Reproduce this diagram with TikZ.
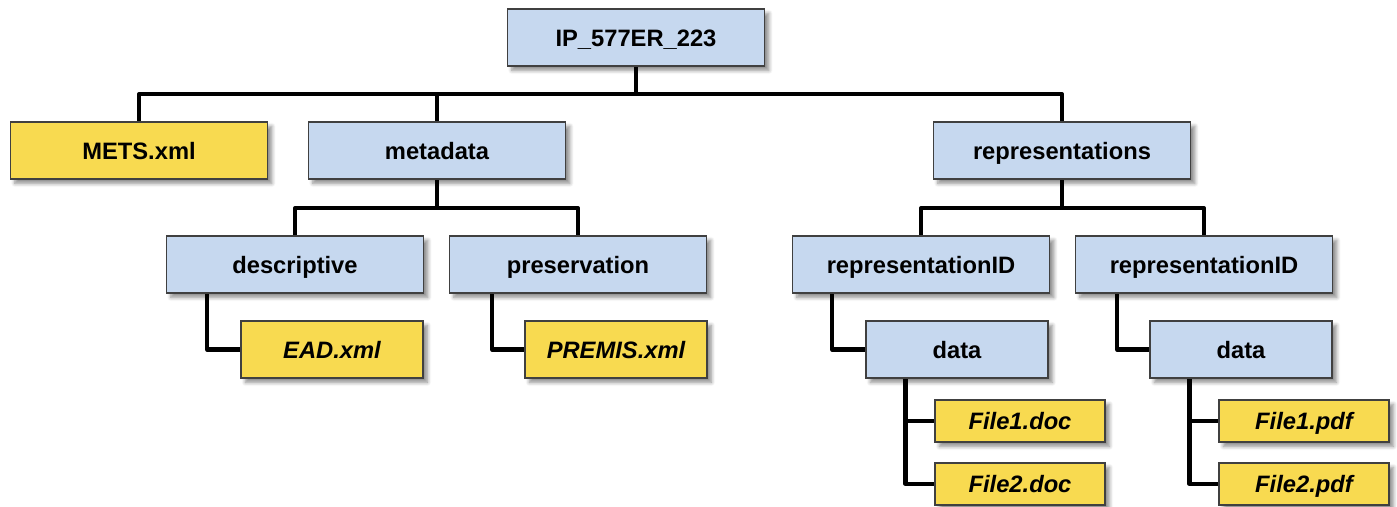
\documentclass[tikz,border=0pt]{standalone}
\usepackage{fontspec}
\setmainfont{Liberation Sans}
\usetikzlibrary{shadows.blur,backgrounds}
\definecolor{dirblue}{HTML}{C6D8EF}
\definecolor{fileyellow}{HTML}{F8DA50}
\definecolor{boxline}{HTML}{404040}
\begin{document}
\begin{tikzpicture}[
    box/.style={rectangle, draw=boxline, line width=0.6pt, minimum height=1.14cm,
        text height=9.7pt, text depth=0pt,
        font=\fontsize{13.5}{16}\selectfont\bfseries,
        blur shadow={shadow xshift=2.5pt, shadow yshift=-2.5pt, shadow blur steps=6, shadow opacity=45}},
    folder/.style={box, fill=dirblue, minimum width=5.14cm},
    subfolder/.style={box, fill=dirblue, minimum width=3.64cm},
    xmlfile/.style={box, fill=fileyellow, minimum width=3.64cm, font=\fontsize{13.5}{16}\selectfont\bfseries\itshape},
    datafile/.style={box, fill=fileyellow, minimum width=3.4cm, minimum height=0.84cm, font=\fontsize{13.5}{16}\selectfont\bfseries\itshape},
    tree/.style={line width=2.3pt, line join=round}
]
\useasboundingbox (0,0) rectangle (27.94,-10.12);

% package root
\node[folder] (ip) at (12.72,-0.75) {IP\_577ER\_223};

% first level
\node[folder, fill=fileyellow] (mets) at (2.78,-3.01) {METS.xml};
\node[folder] (metadata) at (8.74,-3.01) {metadata};
\node[folder] (representations) at (21.24,-3.01) {representations};

% metadata folders
\node[folder] (descriptive) at (5.90,-5.29) {descriptive};
\node[folder] (preservation) at (11.56,-5.29) {preservation};
\node[xmlfile] (ead) at (6.64,-6.99) {EAD.xml};
\node[xmlfile] (premis) at (12.32,-6.99) {PREMIS.xml};

% representation folders
\node[folder] (repA) at (18.42,-5.29) {representationID};
\node[folder] (repB) at (24.08,-5.29) {representationID};
\node[subfolder] (dataA) at (19.14,-6.99) {data};
\node[subfolder] (dataB) at (24.82,-6.99) {data};

% files
\node[datafile] (docA) at (20.40,-8.42) {File1.doc};
\node[datafile] (docB) at (20.40,-9.68) {File2.doc};
\node[datafile] (pdfA) at (26.08,-8.42) {File1.pdf};
\node[datafile] (pdfB) at (26.08,-9.68) {File2.pdf};

% connectors
\coordinate (bus1) at (0,-1.88);
\coordinate (bus2) at (0,-4.16);
\begin{pgfonlayer}{background}
\draw[tree] (mets.north) |- (representations.north |- bus1) -- (representations.north);
\draw[tree] (ip.south) -- (ip.south |- bus1);
\draw[tree] (metadata.north) -- (metadata.north |- bus1);
\draw[tree] (descriptive.north) |- (preservation.north |- bus2) -- (preservation.north);
\draw[tree] (metadata.south) -- (metadata.south |- bus2);
\draw[tree] (repA.north) |- (repB.north |- bus2) -- (repB.north);
\draw[tree] (representations.south) -- (representations.south |- bus2);
\draw[tree] ([xshift=0.82cm]descriptive.south west) |- (ead.west);
\draw[tree] ([xshift=0.86cm]preservation.south west) |- (premis.west);
\draw[tree] ([xshift=0.80cm]repA.south west) |- (dataA.west);
\draw[tree] ([xshift=0.84cm]repB.south west) |- (dataB.west);
\draw[tree] ([xshift=0.80cm]dataA.south west) |- (docA.west);
\draw[tree] ([xshift=0.80cm]dataA.south west) |- (docB.west);
\draw[tree] ([xshift=0.80cm]dataB.south west) |- (pdfA.west);
\draw[tree] ([xshift=0.80cm]dataB.south west) |- (pdfB.west);
\end{pgfonlayer}
\end{tikzpicture}
\end{document}
